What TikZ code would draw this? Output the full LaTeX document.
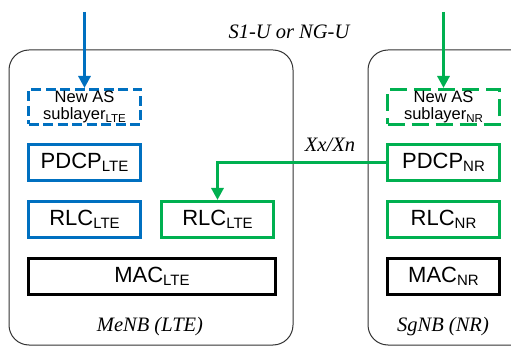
\documentclass[tikz,border=0pt]{standalone}
\usepackage{fontspec}
\setmainfont{Liberation Sans}
\newfontfamily\labfont{Liberation Serif}
\usetikzlibrary{arrows.meta}
\definecolor{lteblue}{RGB}{0,112,192}
\definecolor{nrgreen}{RGB}{0,176,80}
\newcommand\bigsub[2]{#1\raisebox{-3pt}{\fontsize{15}{15}\selectfont #2}}
\newcommand\smallsub[2]{#1\raisebox{-2.5pt}{\fontsize{11.5}{11.5}\selectfont #2}}
\begin{document}
\begin{tikzpicture}[x=1pt,y=-1pt,
  container/.style={draw=black!80, line width=1pt, rounded corners=20pt},
  layer/.style={draw, line width=3pt, minimum height=36pt, minimum width=112pt, inner sep=0pt, font=\fontsize{22}{22}\selectfont},
  newas/.style={line width=3pt, minimum height=35pt, minimum width=112pt, inner sep=0pt, align=center, font=\fontsize{16.5}{17}\selectfont},
  bluedash/.style={newas, draw=lteblue, dash pattern=on 10pt off 4.5pt},
  greendash/.style={newas, draw=nrgreen, dash pattern=on 17pt off 7pt},
  lbl/.style={font=\labfont\itshape\fontsize{20.5}{20.5}\selectfont, inner sep=0pt},
  conn/.style={line width=3pt, -{Triangle[width=12pt,length=12pt]}}
]
\clip (0,0) rectangle (511,347);
% containers
\draw[container] (9,50) rectangle (293,345);
\draw[container] (368,50) rectangle (540,345);
% LTE side
\node[bluedash] (asl) at (84.5,107) {New AS\\\smallsub{sublayer}{LTE}};
\node[layer, draw=lteblue] (pdcpl) at (84.5,162.5) {\bigsub{PDCP}{LTE}};
\node[layer, draw=lteblue] (rlcl) at (84.5,219.5) {\bigsub{RLC}{LTE}};
\node[layer, draw=nrgreen] (rlcg) at (217.5,219.5) {\bigsub{RLC}{LTE}};
\node[layer, draw=black, minimum width=247pt] (macl) at (152,276.5) {\bigsub{MAC}{LTE}};
% NR side
\node[greendash] (asn) at (443.5,107) {New AS\\\smallsub{sublayer}{NR}};
\node[layer, draw=nrgreen] (pdcpn) at (443.5,162.5) {\bigsub{PDCP}{NR}};
\node[layer, draw=nrgreen] (rlcn) at (443.5,219.5) {\bigsub{RLC}{NR}};
\node[layer, draw=black] (macn) at (443.5,276.5) {\bigsub{MAC}{NR}};
% labels
\node[lbl] (s1) at (289,32) {S1-U or NG-U};
\node[lbl] (xx) at (330,145) {Xx/Xn};
\node[lbl] (menb) at (150,327) {MeNB (LTE)};
\node[lbl] (sgnb) at (443,327) {SgNB (NR)};
% connectors
\coordinate (topl) at (84.5,12);
\coordinate (topn) at (443.5,12);
\draw[conn, draw=lteblue] (topl) -- (asl.north);
\draw[conn, draw=nrgreen] (topn) -- (asn.north);
\draw[conn, draw=nrgreen] (pdcpn.west) -| (rlcg.north);
\end{tikzpicture}
\end{document}
